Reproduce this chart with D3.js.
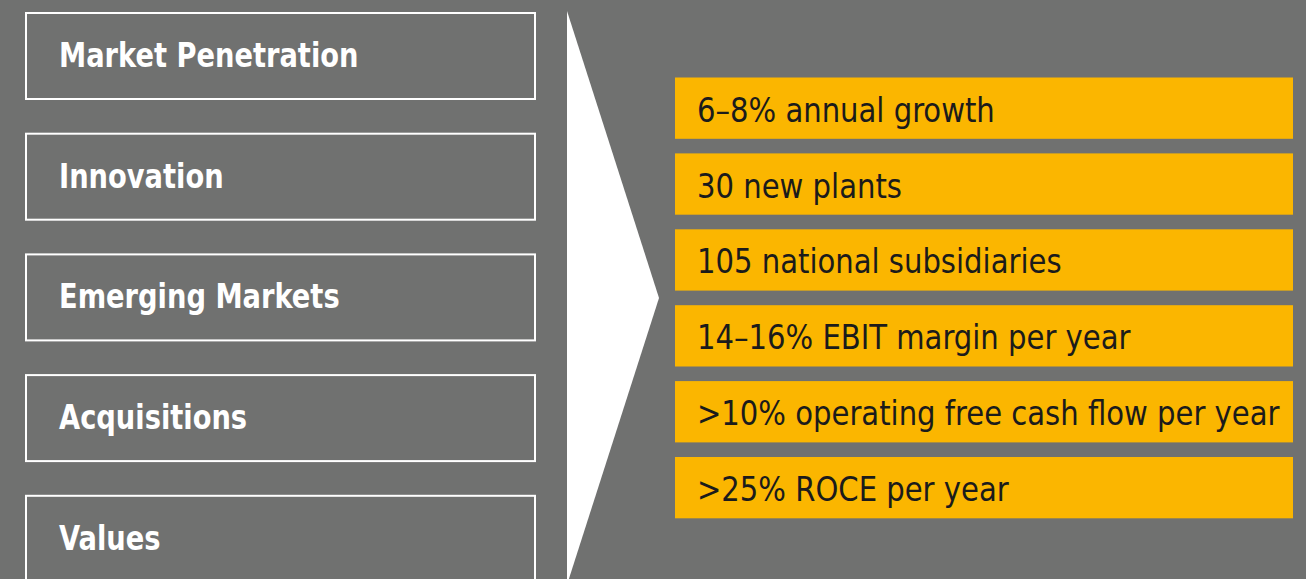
<!DOCTYPE html>
<html>
<head>
<meta charset="utf-8">
<script src="https://cdn.jsdelivr.net/npm/d3@7"></script>
<style>
  html, body { margin: 0; padding: 0; background: #707170; overflow: hidden; }
  #chart { width: 1306px; height: 579px; }
</style>
</head>
<body>
<div id="chart"></div>
<script>
// Strategy drivers (left) and targets (right)
const drivers = ["Market Penetration", "Innovation", "Emerging Markets", "Acquisitions", "Values"];
const targets = [
  "6–8% annual growth",
  "30 new plants",
  "105 national subsidiaries",
  "14–16% EBIT margin per year",
  ">10% operating free cash flow per year",
  ">25% ROCE per year"
];

function renderStrategy(containerId) {
  const container = d3.select(`#${containerId}`);
  const width = 1306;
  const height = 579;
  container.selectAll("*").remove();

  const svg = container.append("svg")
    .attr("width", width)
    .attr("height", height);

  svg.append("rect")
    .attr("width", width)
    .attr("height", height)
    .attr("fill", "#707170");

  const font = "'DejaVu Sans Condensed', 'Roboto', sans-serif";

  // Left column - outlined boxes
  const leftStep = 120.7, leftBox = 88;
  const yLeft = d3.scaleBand()
    .domain(drivers)
    .range([12, 12 + drivers.length * leftStep - (leftStep - leftBox)])
    .paddingInner((leftStep - leftBox) / leftStep)
    .paddingOuter(0);

  const left = svg.append("g");
  left.selectAll("rect")
    .data(drivers)
    .join("rect")
    .attr("x", 26)
    .attr("y", d => yLeft(d) + 1)
    .attr("width", 509)
    .attr("height", yLeft.bandwidth() - 2)
    .attr("fill", "none")
    .attr("stroke", "#ffffff")
    .attr("stroke-width", 2);

  // font is a bit wider than the original, squeeze horizontally
  left.selectAll("text")
    .data(drivers)
    .join("text")
    .attr("transform", d => `translate(59,${yLeft(d) + yLeft.bandwidth() / 2 + 11}) scale(0.92,1)`)
    .attr("fill", "#ffffff")
    .style("font-family", font)
    .style("font-weight", "bold")
    .style("font-size", "33px")
    .text(d => d);

  // Right column - orange target boxes
  const rightStep = 75.9, rightBox = 61.3;
  const yRight = d3.scaleBand()
    .domain(targets)
    .range([77.5, 77.5 + targets.length * rightStep - (rightStep - rightBox)])
    .paddingInner((rightStep - rightBox) / rightStep)
    .paddingOuter(0);

  const right = svg.append("g");
  right.selectAll("rect")
    .data(targets)
    .join("rect")
    .attr("x", 675)
    .attr("y", d => yRight(d))
    .attr("width", 618)
    .attr("height", yRight.bandwidth())
    .attr("fill", "#fbb600");

  right.selectAll("text")
    .data(targets)
    .join("text")
    .attr("transform", d => `translate(697,${yRight(d) + yRight.bandwidth() / 2 + 13.5}) scale(0.98,1)`)
    .attr("fill", "#1b1b1b")
    .style("font-family", font)
    .style("font-size", "33px")
    .text(d => d);

  // Arrow wedge pointing from drivers to targets
  const [r0, r1] = yRight.range();
  const tipY = (r0 + r1) / 2;
  const topY = 11;
  const arrowPts = [[567, topY], [659, tipY], [567, 2 * tipY - topY]];
  svg.append("path")
    .datum(arrowPts)
    .attr("d", d3.line().curve(d3.curveLinearClosed))
    .attr("fill", "#ffffff");
}

document.addEventListener("DOMContentLoaded", () => {
  renderStrategy("chart");
});
</script>
</body>
</html>
